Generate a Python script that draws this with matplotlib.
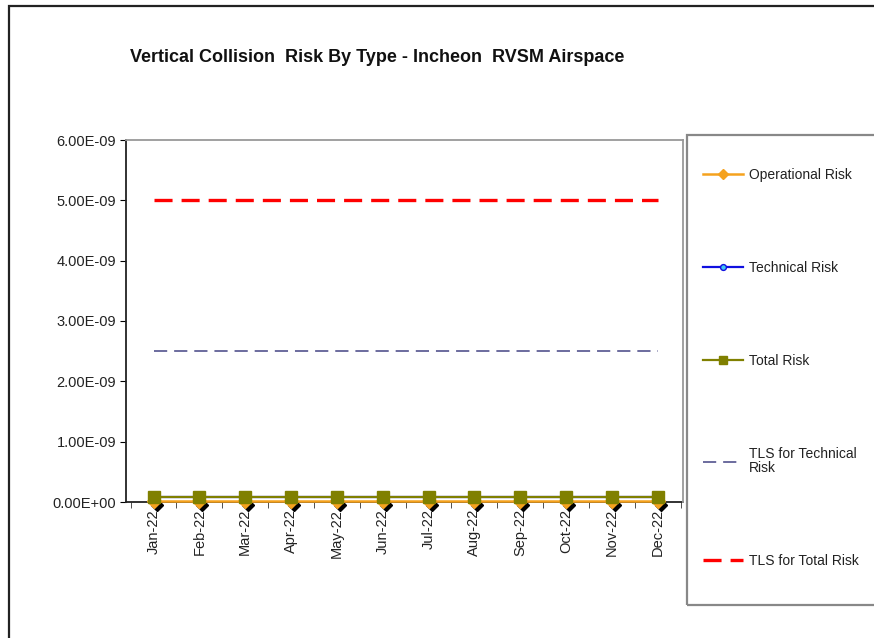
import matplotlib
matplotlib.use("Agg")
import matplotlib.pyplot as plt
import matplotlib.transforms as mtransforms
from matplotlib.patches import Rectangle
from matplotlib.ticker import FuncFormatter, FixedLocator

plt.rcParams['font.family'] = ['Liberation Sans', 'DejaVu Sans']
plt.rcParams['lines.scale_dashes'] = False

months = ["Jan-22", "Feb-22", "Mar-22", "Apr-22", "May-22", "Jun-22",
          "Jul-22", "Aug-22", "Sep-22", "Oct-22", "Nov-22", "Dec-22"]
operational_risk = [1.2e-11] * 12
technical_risk = [8.5e-11] * 12
total_risk = [9.0e-11] * 12
tls_technical = [2.5e-9] * 12
tls_total = [5.0e-9] * 12
y_ticks = [0, 1e-9, 2e-9, 3e-9, 4e-9, 5e-9, 6e-9]

fig = plt.figure(figsize=(8.74, 6.38), dpi=100)
ax = fig.add_axes([126 / 874, 1 - 502 / 638, (683 - 126) / 874, (502 - 140) / 638])

x = list(range(len(months)))

# dark drop shadow under the operational markers
shadow = ax.transData + mtransforms.ScaledTranslation(3 / 100, -4 / 100, fig.dpi_scale_trans)
ax.plot(x, operational_risk, ls="none", marker="D", ms=6, mfc="black", mec="black",
        transform=shadow, zorder=2.6, clip_on=False)
ax.plot(x, operational_risk, color="#F5A21E", lw=1.8, marker="D", ms=7,
        mfc="#F5A21E", mec="#F5A21E", label="Operational Risk", zorder=2.7, clip_on=False)
ax.plot(x, technical_risk, color="#1010E0", lw=1.6, marker="o", ms=6,
        mfc="#40C8F0", mec="#1010E0", label="Technical Risk", zorder=2.8, clip_on=False)
ax.plot(x, total_risk, color="#808000", lw=1.6, marker="s", ms=8,
        mfc="#808000", mec="#808000", label="Total Risk", zorder=2.9, clip_on=False)
ax.plot(x, tls_technical, color="#6B6B9E", lw=1.4, dashes=(9.5, 5),
        label="TLS for Technical\nRisk", zorder=3)
ax.plot(x, tls_total, color="#FF0000", lw=2.4, dashes=(13, 6.5),
        label="TLS for Total Risk", zorder=3)

ax.set_xlim(-0.6, 11.55)
ax.set_ylim(0, 6e-9)
ax.set_yticks(y_ticks)
ax.yaxis.set_major_formatter(FuncFormatter(lambda v, p: f"{v:.2E}"))
ax.set_xticks(x)
ax.set_xticklabels(months, rotation=90)
ax.xaxis.set_minor_locator(FixedLocator([i + 0.5 for i in range(-1, 12)]))
ax.tick_params(axis="x", which="major", length=0, pad=5, labelsize=10.5, labelcolor="#222222")
ax.tick_params(axis="x", which="minor", length=4, direction="out", color="#333333")
ax.tick_params(axis="y", length=4, direction="out", pad=3, labelsize=10.5, labelcolor="#222222")

ax.spines["left"].set_color("#222222")
ax.spines["bottom"].set_color("#222222")
ax.spines["top"].set_color("#999999")
ax.spines["right"].set_color("#999999")
for s in ax.spines.values():
    s.set_linewidth(1.3)
ax.spines["bottom"].set_zorder(2)

fig.text(377 / 874, 1 - 57 / 638, "Vertical Collision  Risk By Type - Incheon  RVSM Airspace",
         ha="center", va="center", fontsize=13, fontweight="bold", color="#111111")

# legend box
fig.patches.append(Rectangle((687 / 874, 1 - 605 / 638), 0.3, (605 - 135) / 638,
                             transform=fig.transFigure, fill=False,
                             edgecolor="#888888", lw=1.6))
leg = fig.legend(loc="upper left", bbox_to_anchor=(703 / 874, 1 - 168 / 638),
                 frameon=False, fontsize=10, markerscale=0.7,
                 handlelength=2.9, handletextpad=0.4, labelspacing=5.7,
                 borderpad=0, borderaxespad=0)
for t in leg.get_texts():
    t.set_color("#222222")
    t.set_linespacing(0.95)

# outer chart frame
fig.patches.append(Rectangle((9 / 874, -0.1), 1.2, 1.1 - 6 / 638, transform=fig.transFigure,
                             fill=False, edgecolor="#222222", lw=1.6))

fig.savefig("out.png", dpi=100)
